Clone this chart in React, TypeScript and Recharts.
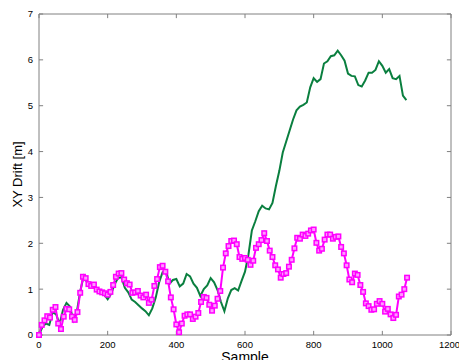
import { LineChart, Line, XAxis, YAxis, ReferenceLine } from 'recharts';

// green trace: sample index and drift (no markers)
const greenSamples = [
  0, 10, 20, 30, 40, 50, 60, 70, 80, 90,
  100, 110, 120, 130, 140, 150, 160, 170, 180, 190,
  200, 210, 220, 230, 240, 250, 260, 270, 280, 290,
  300, 310, 320, 330, 340, 350, 360, 370, 380, 390,
  400, 410, 420, 430, 440, 450, 460, 470, 480, 490,
  500, 510, 520, 530, 540, 550, 560, 570, 580, 590,
  600, 610, 620, 630, 640, 650, 660, 670, 680, 690,
  700, 710, 720, 730, 740, 750, 760, 770, 780, 790,
  800, 810, 820, 830, 840, 850, 860, 870, 880, 890,
  900, 910, 920, 930, 940, 950, 960, 970, 980, 990,
  1000, 1010, 1020, 1030, 1040, 1050, 1060, 1070,
];
const driftGreen = [
  0.0, 0.18, 0.25, 0.22, 0.5, 0.45, 0.24, 0.55, 0.7, 0.62,
  0.32, 0.5, 0.95, 1.28, 1.15, 1.05, 1.08, 0.97, 0.92, 0.88,
  0.78, 0.9, 1.1, 1.24, 1.26, 1.03, 0.93, 0.77, 0.72, 0.65,
  0.58, 0.52, 0.43, 0.58, 0.82, 1.15, 1.37, 1.4, 1.12, 1.2,
  1.22, 1.06, 1.12, 1.33, 1.28, 1.12, 1.03, 0.85, 1.0, 1.08,
  1.24, 1.15, 0.98, 0.72, 0.52, 0.8, 0.98, 1.02, 0.97, 1.18,
  1.38, 1.75, 2.28, 2.48, 2.7, 2.82, 2.76, 2.74, 2.88, 3.25,
  3.58, 3.98, 4.22, 4.46, 4.7, 4.9, 4.98, 5.02, 5.07, 5.4,
  5.6, 5.52, 5.58, 5.92, 5.97, 6.08, 6.1, 6.2, 6.1, 5.98,
  5.7, 5.65, 5.64, 5.45, 5.42, 5.55, 5.72, 5.72, 5.78, 5.97,
  5.87, 5.72, 5.8, 5.6, 5.58, 5.65, 5.22, 5.12,
];

// magenta trace: sample index and drift (square markers)
const magentaSamples = [
  0, 8, 16, 24, 32, 40, 48, 56, 64, 72,
  80, 88, 96, 104, 112, 120, 128, 136, 144, 152,
  160, 168, 176, 184, 192, 200, 208, 216, 224, 232,
  240, 248, 256, 264, 272, 280, 288, 296, 304, 312,
  320, 328, 336, 344, 352, 360, 368, 376, 384, 392,
  400, 408, 416, 424, 432, 440, 448, 456, 464, 472,
  480, 488, 496, 504, 512, 520, 528, 536, 544, 552,
  560, 568, 576, 584, 592, 600, 608, 616, 624, 632,
  640, 648, 656, 664, 672, 680, 688, 696, 704, 712,
  720, 728, 736, 744, 752, 760, 768, 776, 784, 792,
  800, 808, 816, 824, 832, 840, 848, 856, 864, 872,
  880, 888, 896, 904, 912, 920, 928, 936, 944, 952,
  960, 968, 976, 984, 992, 1000, 1008, 1016, 1024, 1032,
  1040, 1048, 1056, 1064, 1072,
];
const driftMagenta = [
  0.0, 0.22, 0.32, 0.41, 0.38, 0.55, 0.61, 0.25, 0.13, 0.4,
  0.57, 0.56, 0.4, 0.33, 0.5, 0.92, 1.27, 1.24, 1.11, 1.07,
  1.1, 0.99, 0.95, 0.93, 0.91, 0.88, 0.94, 1.09, 1.27, 1.34,
  1.35, 1.21, 1.13, 1.1, 0.92, 0.93, 0.96, 0.86, 0.82, 0.88,
  0.7, 0.77, 1.07, 1.22, 1.48, 1.51, 1.38, 1.17, 0.82, 0.56,
  0.23, 0.06, 0.25, 0.42, 0.45, 0.45, 0.35, 0.4, 0.48, 0.72,
  0.83, 0.81, 0.66, 0.53, 0.64, 0.79, 0.96, 1.47, 1.78, 1.94,
  2.05, 2.06, 1.98, 1.7, 1.66, 1.68, 1.64, 1.53, 1.62, 1.9,
  1.98, 2.07, 2.22, 2.05, 1.84, 1.7, 1.52, 1.43, 1.25, 1.33,
  1.35, 1.49, 1.64, 1.89, 2.12, 2.1, 2.19, 2.16, 2.21, 2.28,
  2.3, 2.01, 1.84, 1.88, 2.08, 2.19, 2.19, 2.1, 2.14, 2.15,
  1.92, 1.78, 1.52, 1.21, 1.15, 1.34, 1.31, 1.09, 0.94, 0.69,
  0.63, 0.55, 0.56, 0.68, 0.74, 0.68, 0.51, 0.57, 0.45, 0.37,
  0.44, 0.84, 0.88, 1.0, 1.25,
];

const xTicks = [0, 200, 400, 600, 800, 1000, 1200];
const yTicks = [0, 1, 2, 3, 4, 5, 6, 7];

const AXIS = '#808080';
const FONT = 'Liberation Sans, Arial, sans-serif';

const greenRows = greenSamples.map((s, i) => ({ s, v: driftGreen[i] }));
const magentaRows = magentaSamples.map((s, i) => ({ s, v: driftMagenta[i] }));

function SquareDot(props: any) {
  const { cx, cy } = props;
  if (cx == null || cy == null) return null;
  return (
    <rect
      x={cx - 2.25}
      y={cy - 2.25}
      width={4.5}
      height={4.5}
      fill="#ff9cff"
      stroke="#ff00ff"
      strokeWidth={1.5}
    />
  );
}

export default function App() {
  const tickStyle = { fill: '#000', fontSize: 9.5, fontFamily: FONT };
  return (
    <div style={{ position: 'absolute', left: 0, top: 0, width: 459, height: 360, background: '#fff' }}>
      <LineChart width={459} height={360} margin={{ top: 14, right: 8, bottom: 0, left: 0 }}>
        <XAxis
          dataKey="s"
          type="number"
          domain={[0, 1200]}
          ticks={xTicks}
          allowDuplicatedCategory={false}
          height={25}
          tickSize={0}
          tickMargin={6}
          tickLine={false}
          axisLine={{ stroke: AXIS }}
          tick={tickStyle}
          label={{
            content: () => (
              <text x={245} y={362} textAnchor="middle" fontSize={14} fontFamily={FONT} fill="#000">
                Sample
              </text>
            ),
          }}
        />
        <YAxis
          type="number"
          domain={[0, 7]}
          ticks={yTicks}
          width={39}
          tickSize={0}
          tickMargin={6}
          tickLine={false}
          axisLine={{ stroke: AXIS }}
          tick={tickStyle}
          label={{
            content: () => (
              <text
                x={22}
                y={174.5}
                transform="rotate(-90 22 174.5)"
                textAnchor="middle"
                fontSize={13}
                fontFamily={FONT}
                fill="#000"
              >
                XY Drift [m]
              </text>
            ),
          }}
        />
        {/* box */}
        <ReferenceLine y={7} stroke={AXIS} />
        <ReferenceLine x={1200} stroke={AXIS} />
        {/* inward tick marks, MATLAB style */}
        {xTicks.map((t) => (
          <ReferenceLine key={'xb' + t} segment={[{ x: t, y: 0 }, { x: t, y: 0.09 }]} stroke={AXIS} />
        ))}
        {xTicks.map((t) => (
          <ReferenceLine key={'xt' + t} segment={[{ x: t, y: 7 }, { x: t, y: 6.91 }]} stroke={AXIS} />
        ))}
        {yTicks.map((t) => (
          <ReferenceLine key={'yl' + t} segment={[{ x: 0, y: t }, { x: 12, y: t }]} stroke={AXIS} />
        ))}
        {yTicks.map((t) => (
          <ReferenceLine key={'yr' + t} segment={[{ x: 1200, y: t }, { x: 1188, y: t }]} stroke={AXIS} />
        ))}
        <Line
          data={greenRows}
          type="linear"
          dataKey="v"
          stroke="#0a7f3f"
          strokeWidth={2}
          dot={false}
          isAnimationActive={false}
        />
        <Line
          data={magentaRows}
          type="linear"
          dataKey="v"
          stroke="#ff00ff"
          strokeWidth={2}
          dot={<SquareDot />}
          isAnimationActive={false}
        />
      </LineChart>
    </div>
  );
}
